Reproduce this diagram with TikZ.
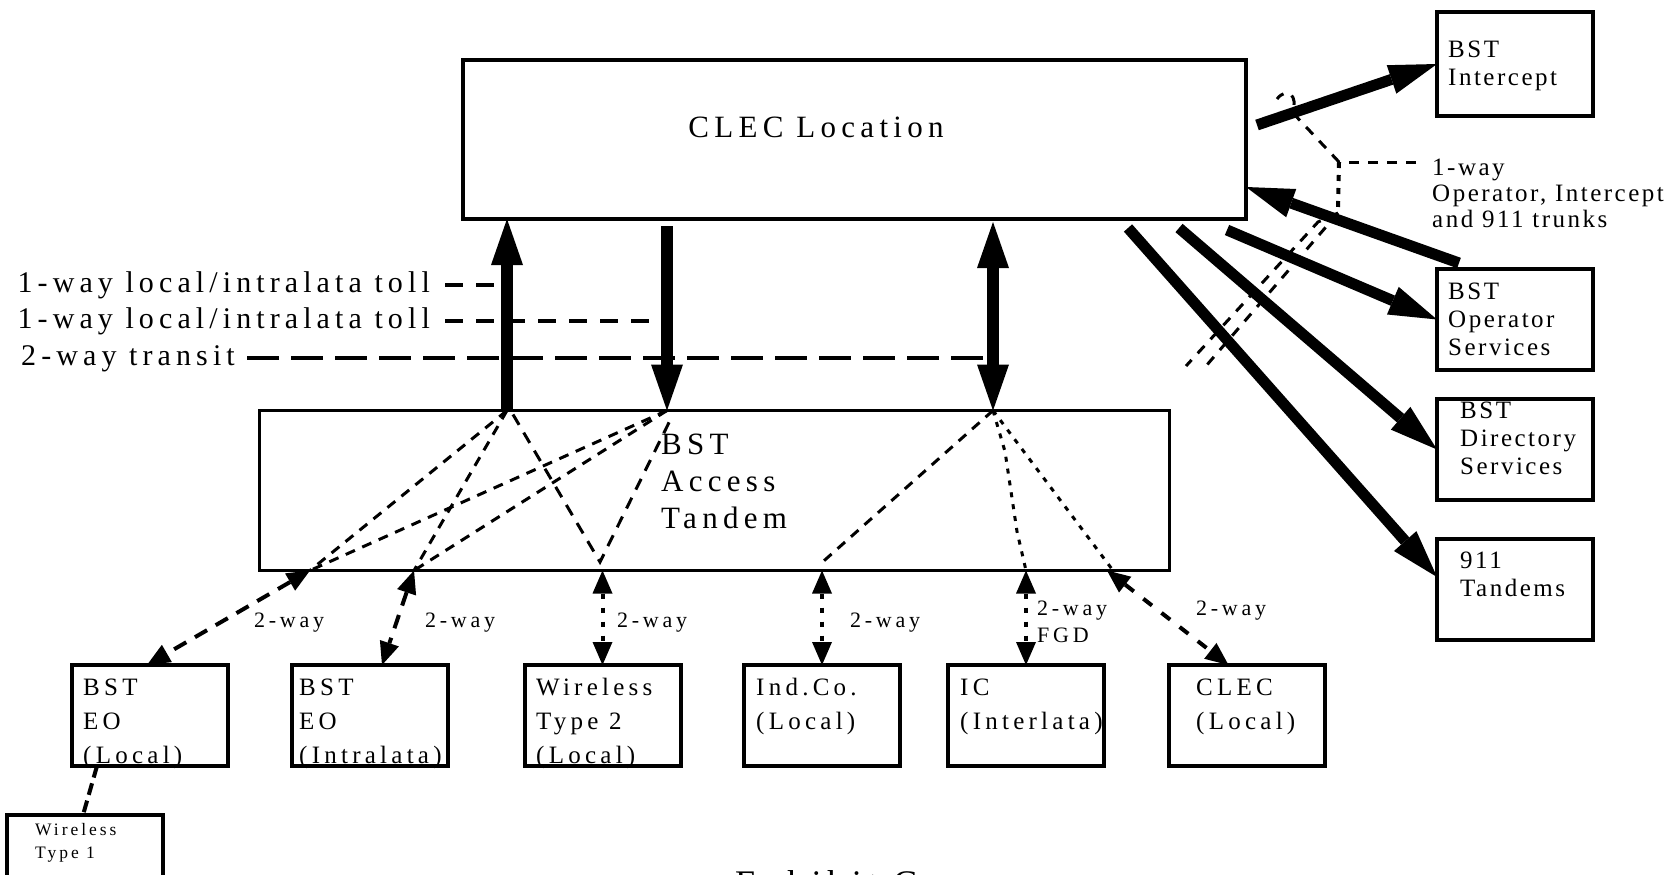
\documentclass[tikz,border=0pt]{standalone}
\usepackage{fontspec}
\setmainfont{Liberation Serif}
\newfontfamily\widefont[LetterSpace=17]{Liberation Serif}
\newfontfamily\tightfont[LetterSpace=10]{Liberation Serif}
\usetikzlibrary{calc,arrows.meta}
\tikzset{
  hub/.style={draw,outer sep=0pt},
  office/.style={draw,line width=4pt,outer sep=0pt,minimum width=156pt,minimum height=101pt},
  officetext/.style={anchor=north west,inner sep=0pt,align=left,font=\widefont\fontsize{25}{34}\selectfont},
  servicetext/.style={anchor=north west,inner sep=0pt,align=left,font=\tightfont\fontsize{25}{28}\selectfont},
  bigtext/.style={inner sep=0pt,align=left,font=\widefont\fontsize{31}{37}\selectfont},
  keytext/.style={inner sep=0pt,anchor=base east,font=\widefont\fontsize{30}{36}\selectfont},
  waytext/.style={anchor=north west,inner sep=0pt,align=left,font=\widefont\fontsize{22}{27}\selectfont},
  trunk/.style={line width=12pt,-{Triangle[length=46pt,width=32pt,line width=0pt]}},
  trunkboth/.style={line width=12pt,{Triangle[length=46pt,width=32pt,line width=0pt]}-{Triangle[length=46pt,width=32pt,line width=0pt]}},
  feed/.style={line width=11pt,-{Triangle[length=48pt,width=30pt,line width=0pt]}},
  twoway/.style={line width=4pt,{Triangle[length=23pt,width=20pt,line width=0pt]}-{Triangle[length=23pt,width=20pt,line width=0pt]}},
  route/.style={line width=3pt,dash pattern=on 10pt off 8pt},
  dotroute/.style={line width=3pt,dash pattern=on 5pt off 7pt},
  tap/.style={line width=3pt,dash pattern=on 10pt off 9pt},
  key/.style={line width=4pt,dash pattern=on 18pt off 13pt},
  longkey/.style={line width=4pt,dash pattern=on 32pt off 12pt}
}
\begin{document}
\begin{tikzpicture}[x=1pt,y=-1pt]
\useasboundingbox (0,0) rectangle (1679,875);

\node[hub,line width=4pt,minimum width=783pt,minimum height=159pt] (clec) at (854.5,139.5) {};
\node[hub,line width=3pt,minimum width=910pt,minimum height=160pt] (tandem) at (714.5,490.5) {};
\node[bigtext] (clec-name) at (816,127) {CLEC Location};
\node[bigtext,anchor=north west] (tandem-name) at (661,428) {\strut BST\\Access\\Tandem};

\node[office] (eolocal) at (150,715.5) {};
\node[office] (eointra) at (370,715.5) {};
\node[office] (wireless2) at (602.5,715.5) {};
\node[office] (indco) at (822,715.5) {};
\node[office] (ic) at (1026,715.5) {};
\node[office] (cleclocal) at (1246.5,715.5) {};
\node[office] (wireless1) at (85,865.5) {};
\node[officetext] (eolocal-text) at ([shift={(11,6.5)}]eolocal.north west) {\strut BST\\EO\\(Local)};
\node[officetext] (eointra-text) at ([shift={(7,6.5)}]eointra.north west) {\strut BST\\EO\\(Intralata)};
\node[officetext] (wireless2-text) at ([shift={(11.5,6.5)}]wireless2.north west) {\strut Wireless\\Type 2\\(Local)};
\node[officetext] (indco-text) at ([shift={(12,6.5)}]indco.north west) {\strut Ind.Co.\\(Local)};
\node[officetext] (ic-text) at ([shift={(12,6.5)}]ic.north west) {\strut IC\\(Interlata)};
\node[officetext] (cleclocal-text) at ([shift={(27.5,6.5)}]cleclocal.north west) {\strut CLEC\\(Local)};
\node[officetext,font=\widefont\fontsize{17.5}{23}\selectfont] (wireless1-text) at ([shift={(28,4)}]wireless1.north west) {\strut Wireless\\Type 1};

\node[office,minimum height=104pt] (intercept) at (1515,64) {};
\node[office] (operator) at (1515,319.5) {};
\node[office] (directory) at (1515,449.5) {};
\node[office] (tandems911) at (1515,589) {};
\node[servicetext] (intercept-text) at ([shift={(11,25.5)}]intercept.north west) {\strut BST\\Intercept};
\node[servicetext] (operator-text) at ([shift={(11,10.5)}]operator.north west) {\strut BST\\Operator\\Services};
\node[servicetext] (directory-text) at ([shift={(23,0)}]directory.north west) {\strut BST\\Directory\\Services};
\node[servicetext] (tandems911-text) at ([shift={(23,10)}]tandems911.north west) {\strut 911\\Tandems};
\node[servicetext,font=\tightfont\fontsize{25}{26}\selectfont] (trunks) at (1432,157) {\strut 1-way\\Operator, Intercept\\and 911 trunks};

\node[keytext] (leg1) at (430,292) {1-way local/intralata toll};
\node[keytext] (leg2) at (430,328) {1-way local/intralata toll};
\node[keytext] (leg3) at (235,365) {2-way transit};

\coordinate (up) at (507,0);
\coordinate (down) at (667,0);
\coordinate (both) at (993,0);
\coordinate (p1) at (310,0);
\coordinate (p2) at (414,0);
\coordinate (p6) at (1107,0);
\coordinate (vee) at (600,562);
\coordinate (fork) at (1339,162);
\coordinate (fork2) at (1338,213);

\draw[key] ([xshift=15pt]leg1.east) -- (leg1.east -| up);
\draw[key] ([xshift=15pt]leg2.east) -- (leg2.east -| down);
\draw[longkey] ([xshift=12pt]leg3.east) -- (leg3.east -| both);

\draw[route] (up |- tandem.north) -- (p1 |- tandem.south);
\draw[route] (up |- tandem.north) -- (p2 |- tandem.south);
\draw[route] (down |- tandem.north) -- (p1 |- tandem.south);
\draw[route] (down |- tandem.north) -- (p2 |- tandem.south);
\draw[route,dash pattern=on 12pt off 9pt] ($(up |- tandem.north)+(6,4)$) -- (vee) -- ($(down |- tandem.north)+(5,6)$);
\draw[route] (both |- tandem.north) -- ($(indco.north |- tandem.south)+(0,-8)$);
\draw[dotroute] (both |- tandem.north) -- ++(12,41) -- ++(12,80) -- (ic.north |- tandem.south);
\draw[dotroute] (both |- tandem.north) -- ($(p6 |- tandem.south)+(6,0)$);

\draw[trunk] (up |- tandem.north) -- (up |- clec.south);
\draw[trunk] ($(down |- clec.south)+(0,7)$) -- (down |- tandem.north);
\draw[trunkboth] ($(both |- clec.south)+(0,3)$) -- (both |- tandem.north);

\draw[twoway,dash pattern=on 14pt off 10pt] (p1 |- tandem.south) -- ([xshift=-3pt]eolocal.north);
\draw[twoway,dash pattern=on 14pt off 10pt] (p2 |- tandem.south) -- ([xshift=12pt]eointra.north);
\draw[twoway,dash pattern=on 5pt off 9pt] (wireless2.north |- tandem.south) -- (wireless2.north);
\draw[twoway,dash pattern=on 5pt off 9pt] (indco.north |- tandem.south) -- (indco.north);
\draw[twoway,dash pattern=on 5pt off 9pt] (ic.north |- tandem.south) -- (ic.north);
\draw[twoway,dash pattern=on 11pt off 12pt] (p6 |- tandem.south) -- ([xshift=-18pt]cleclocal.north);
\draw[line width=4pt,dash pattern=on 12pt off 6pt] ($(eolocal.south)+(-53,0)$) -- ([xshift=-2pt]wireless1.north);

\node[waytext] (way1) at (254,608) {\strut 2-way};
\node[waytext] (way2) at (425,608) {\strut 2-way};
\node[waytext] (way3) at (617,608) {\strut 2-way};
\node[waytext] (way4) at (850,608) {\strut 2-way};
\node[waytext] (way5) at (1037,596) {\strut 2-way\\FGD};
\node[waytext] (way6) at (1196,596) {\strut 2-way};

\draw[feed] ($(clec.north east)+(11,65)$) -- (intercept.west);
\draw[feed] ($(operator.north)+(-56,-6)$) -- ($(clec.south east)+(0,-32)$);
\draw[feed] ($(clec.south east)+(-19,11)$) -- (operator.west);
\draw[feed] ($(clec.south east)+(-67,9)$) -- (directory.west);
\draw[feed] ($(clec.south east)+(-118,9)$) -- ([yshift=12pt]tandems911.west);

\draw[tap] ($(fork -| trunks.west)+(-16,0)$) -- (fork);
\draw[tap] (fork) -- (1292,112) .. controls (1299,96) and (1287,86) .. (1277,99);
\draw[line width=4pt,dash pattern=on 6pt off 7pt] (fork) -- (fork2);
\draw[tap] (fork2) -- (1206,366);
\draw[tap] (fork2) -- (1318,222) -- (1186,366);

\node[anchor=north west,inner sep=0pt,font=\widefont\fontsize{36}{40}\selectfont] (exhibit) at (735,870) {Exhibit C};
\end{tikzpicture}
\end{document}
